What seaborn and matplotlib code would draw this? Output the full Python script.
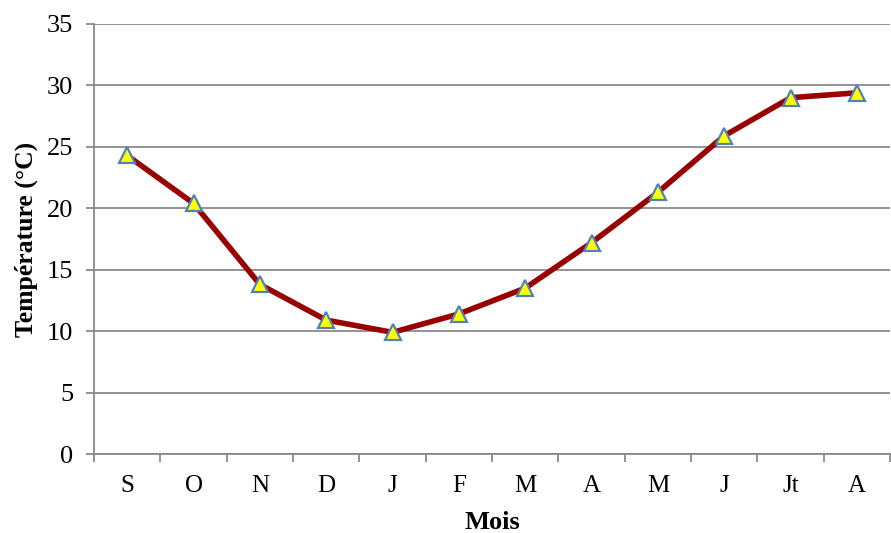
import matplotlib
matplotlib.use("Agg")
import matplotlib.pyplot as plt
import seaborn as sns
import pandas as pd

months = ["S", "O", "N", "D", "J", "F", "M", "A", "M", "J", "Jt", "A"]
temperatures = [24.3, 20.4, 13.8, 10.9, 9.9, 11.4, 13.5, 17.2, 21.3, 25.9, 29.0, 29.4]
y_ticks = [0, 5, 10, 15, 20, 25, 30, 35]

sns.set_theme(style="white")
plt.rcParams["font.family"] = ["Liberation Serif", "DejaVu Serif"]
plt.rcParams["text.color"] = "black"
plt.rcParams["axes.labelcolor"] = "black"

df = pd.DataFrame({"pos": range(len(months)), "temp": temperatures})

fig = plt.figure(figsize=(8.91, 5.33), dpi=100)
ax = fig.add_axes([0.1055, 0.1482, 0.8935, 0.8068])

sns.lineplot(data=df, x="pos", y="temp", ax=ax, color="#990000", linewidth=4,
             marker="^", markersize=11, markerfacecolor="#FFFF00",
             markeredgecolor="#4F81BD", markeredgewidth=1.6, zorder=3)

ax.set_xlim(-0.5, len(months) - 0.5)
ax.set_ylim(0, 35)
ax.set_yticks(y_ticks)
ax.set_yticklabels([str(v) for v in y_ticks], fontsize=19, color="black")
ax.set_xticks(range(len(months)))
ax.set_xticklabels(months, fontsize=18, color="black")
ax.set_xticks([i - 0.5 for i in range(len(months) + 1)], minor=True)

ax.yaxis.grid(True, color="#8A8A8A", linewidth=1.3)
ax.xaxis.grid(False)
ax.set_axisbelow(True)

for s in ["top", "right"]:
    ax.spines[s].set_visible(False)
for s in ["left", "bottom"]:
    ax.spines[s].set_color("#8A8A8A")
    ax.spines[s].set_linewidth(1.3)

ax.tick_params(axis="y", which="major", length=6, color="#8A8A8A", width=1.3, left=True, pad=9)
ax.tick_params(axis="x", which="major", length=0, pad=15)
ax.tick_params(axis="x", which="minor", length=6, color="#8A8A8A", width=1.3, bottom=True)

ax.set_xlabel("Mois", fontsize=19, fontweight="bold", labelpad=10, color="black")
ax.set_ylabel("Température (°C)", fontsize=18.5, fontweight="bold", labelpad=6, color="black")

fig.savefig("out.png", dpi=100)
